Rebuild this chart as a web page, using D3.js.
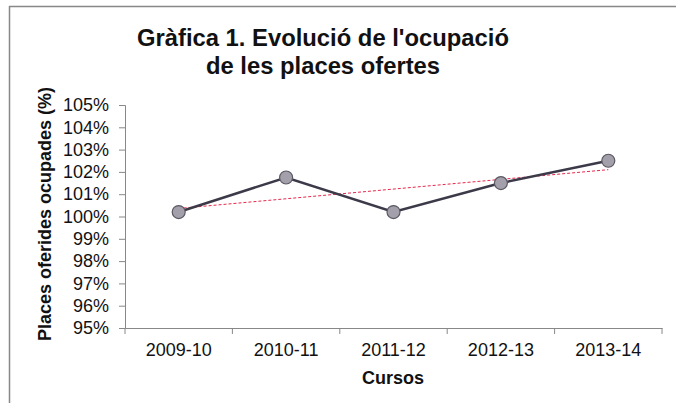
<!DOCTYPE html>
<html>
<head>
<meta charset="utf-8">
<script src="https://cdn.jsdelivr.net/npm/d3@7"></script>
<style>
  body { margin: 0; background: #fff; }
  svg { display: block; font-family: Arial, "Liberation Sans", sans-serif; }
</style>
</head>
<body>
<script>
const cursos = ["2009-10", "2010-11", "2011-12", "2012-13", "2013-14"];
const ocupacio = [100.2, 101.75, 100.2, 101.5, 102.5];
const yTicks = [95, 96, 97, 98, 99, 100, 101, 102, 103, 104, 105];
const titleLines = ["Gràfica 1. Evolució de l'ocupació", "de les places ofertes"];

const width = 676, height = 403;
const margin = {left: 125, right: 14, top: 105, bottom: 75};

const svg = d3.select("body").append("svg")
    .attr("width", width)
    .attr("height", height);

// frame (only top and left edge visible)
svg.append("line").attr("x1", 9).attr("x2", width).attr("y1", 6.5).attr("y2", 6.5)
    .attr("stroke", "#888").attr("stroke-width", 1.5);
svg.append("line").attr("x1", 9.5).attr("x2", 9.5).attr("y1", 6).attr("y2", height)
    .attr("stroke", "#888").attr("stroke-width", 1.5);

const x = d3.scaleBand()
    .domain(cursos)
    .range([margin.left, width - margin.right]);

const y = d3.scaleLinear()
    .domain([95, 105])
    .range([height - margin.bottom, margin.top]);

// axes
const gy = svg.append("g")
    .attr("transform", `translate(${margin.left},0)`)
    .call(d3.axisLeft(y).tickValues(yTicks).tickFormat(d => d + "%").tickSize(6).tickPadding(10));
gy.attr("font-size", null).attr("font-family", null);
gy.select(".domain").attr("stroke", "#888");
gy.selectAll(".tick line").attr("stroke", "#888");
gy.selectAll("text").style("font-size", "18px").attr("fill", "#111");

const gx = svg.append("g")
    .attr("transform", `translate(0,${height - margin.bottom})`)
    .call(d3.axisBottom(x).tickSizeOuter(0).tickSize(0).tickPadding(15));
gx.attr("font-size", null).attr("font-family", null);
gx.select(".domain").attr("stroke", "#888");
gx.selectAll("text").style("font-size", "18px").attr("fill", "#111");

// ticks between categories
const bounds = cursos.map(c => x(c)).concat([x.range()[1]]);
svg.append("g").selectAll("line")
    .data(bounds)
    .enter()
    .append("line")
    .attr("x1", d => d).attr("x2", d => d)
    .attr("y1", height - margin.bottom).attr("y2", height - margin.bottom + 6)
    .attr("stroke", "#888");

// trend line (least squares on the data)
const n = ocupacio.length;
const xs = d3.range(n);
const mx = d3.mean(xs), my = d3.mean(ocupacio);
const slope = d3.sum(xs, (d, i) => (d - mx) * (ocupacio[i] - my)) / d3.sum(xs, d => (d - mx) * (d - mx));
const icpt = my - slope * mx;
const cx = c => x(c) + x.bandwidth() / 2;

svg.append("line")
    .attr("x1", cx(cursos[0])).attr("y1", y(icpt))
    .attr("x2", cx(cursos[n - 1])).attr("y2", y(icpt + slope * (n - 1)))
    .attr("stroke", "#e8264a")
    .attr("stroke-width", 1)
    .attr("stroke-dasharray", "3,2");

// series
const line = d3.line()
    .x((d, i) => cx(cursos[i]))
    .y(d => y(d));

svg.append("path")
    .datum(ocupacio)
    .attr("d", line)
    .attr("fill", "none")
    .attr("stroke", "#3c3a48")
    .attr("stroke-width", 2.5);

svg.selectAll(".punt")
    .data(ocupacio)
    .enter()
    .append("circle")
    .attr("class", "punt")
    .attr("cx", (d, i) => cx(cursos[i]))
    .attr("cy", d => y(d))
    .attr("r", 6.5)
    .attr("fill", "#a39fab")
    .attr("stroke", "#5a5862")
    .attr("stroke-width", 1.2);

// title
svg.append("text")
    .attr("text-anchor", "middle")
    .style("font-size", "23.8px")
    .attr("font-weight", "bold")
    .attr("fill", "#111")
    .selectAll("tspan")
    .data(titleLines)
    .enter()
    .append("tspan")
    .attr("x", 323)
    .attr("y", (d, i) => 46 + i * 28)
    .text(d => d);

// axis titles
svg.append("text")
    .attr("transform", "translate(51,214) rotate(-90)")
    .attr("text-anchor", "middle")
    .style("font-size", "18px")
    .attr("font-weight", "bold")
    .attr("fill", "#111")
    .text("Places oferides ocupades (%)");

svg.append("text")
    .attr("x", 393)
    .attr("y", 384)
    .attr("text-anchor", "middle")
    .style("font-size", "18px")
    .attr("font-weight", "bold")
    .attr("fill", "#111")
    .text("Cursos");
</script>
</body>
</html>
